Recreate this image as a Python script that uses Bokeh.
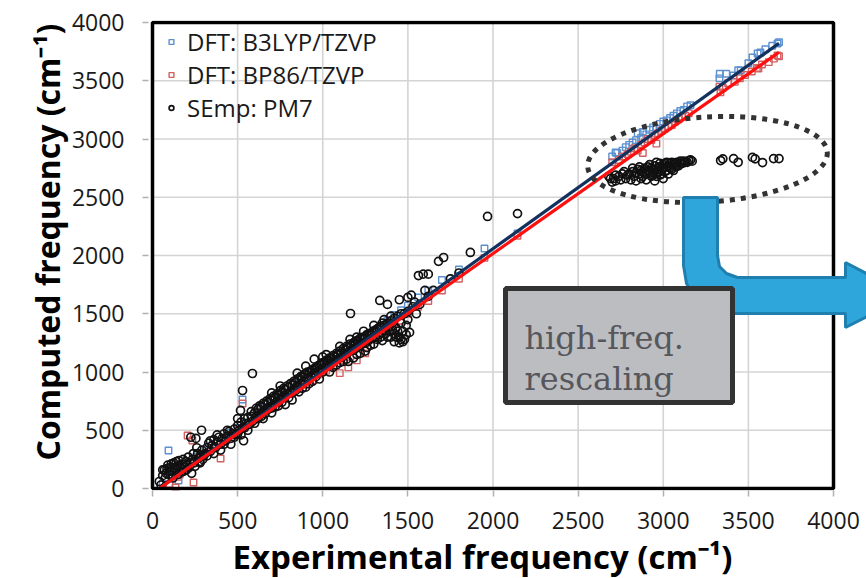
import math
from bokeh.plotting import figure
from bokeh.models import Range1d, FixedTicker, Legend, LegendItem, Title
from bokeh.core.properties import value
from bokeh.embed import file_html
from bokeh.resources import INLINE

# ---------------- data ----------------
ticks = [0, 500, 1000, 1500, 2000, 2500, 3000, 3500, 4000]
tick_labels = {t: str(t) for t in ticks}
grid_vals = [500, 1000, 1500, 2000, 2500, 3000, 3500]

series_names = ["DFT: B3LYP/TZVP", "DFT: BP86/TZVP", "SEmp: PM7"]
x_title = "Experimental frequency (cm\u207b\u00b9)"
y_title = "Computed frequency (cm\u207b\u00b9)"

b3lyp_pts = [
    (60, 40), (94, 326), (110, 100), (130, 120), (153, 69), (150, 160), (170, 140), (200, 210),
    (230, 230), (260, 270), (300, 300), (340, 350), (380, 400), (420, 430), (460, 480),
    (500, 520), (529, 764), (540, 560), (580, 600), (620, 650), (660, 690), (700, 730),
    (740, 770), (780, 810), (820, 860), (860, 900), (900, 940), (940, 980), (980, 1030),
    (1020, 1070), (1060, 1110), (1100, 1150), (1140, 1190), (1180, 1230), (1220, 1280),
    (1260, 1320), (1300, 1360), (1340, 1400), (1380, 1440), (1420, 1490), (1460, 1530),
    (1500, 1570), (1560, 1640), (1620, 1700), (1700, 1790), (1800, 1880), (1950, 2060),
    (2144, 2190),
    (2700, 2850), (2720, 2884), (2730, 2880), (2760, 2900), (2780, 2930), (2800, 2950),
    (2820, 2970), (2840, 2990), (2850, 3050), (2870, 3010), (2880, 3060), (2900, 3040),
    (2920, 3080), (2940, 3100), (2960, 3090), (2980, 3130), (3000, 3150), (3020, 3160),
    (3040, 3180), (3060, 3200), (3080, 3220), (3100, 3240), (3120, 3250), (3140, 3280),
    (3160, 3290),
    (3330, 3520), (3332, 3560), (3370, 3560), (3413, 3545), (3440, 3590), (3455, 3588),
    (3500, 3650), (3524, 3700), (3554, 3734), (3571, 3742), (3600, 3770), (3640, 3800),
    (3671, 3820), (3680, 3830),
]

bp86_pts = [
    (100, 40), (120, 220), (135, 8), (150, 100), (160, 120), (180, 150), (206, 455), (234, 412),
    (241, 51), (230, 230), (250, 230), (290, 270), (330, 310), (370, 360), (400, 258),
    (420, 400), (460, 440), (500, 500), (529, 730), (540, 520), (580, 570), (620, 610),
    (660, 650), (700, 700), (740, 730), (780, 770), (820, 820), (860, 860), (900, 890),
    (940, 930), (980, 980), (1020, 1010), (1060, 1050), (1100, 990), (1100, 1100),
    (1140, 1130), (1150, 1040), (1180, 1180), (1200, 1100), (1220, 1220), (1250, 1160),
    (1260, 1250), (1300, 1300), (1340, 1330), (1380, 1370), (1420, 1420), (1460, 1440),
    (1500, 1500), (1560, 1560), (1620, 1610), (1700, 1700), (1800, 1800), (1950, 1980),
    (2144, 2170),
    (2700, 2800), (2740, 2820), (2760, 2850), (2790, 2870), (2810, 2890), (2830, 2920),
    (2850, 2900), (2870, 2950), (2880, 2880), (2890, 2970), (2910, 3000), (2930, 2990),
    (2950, 3030), (2960, 2960), (2970, 3050), (2990, 3070), (3010, 3090), (3030, 3110),
    (3050, 3120), (3070, 3150), (3090, 3170), (3110, 3190), (3130, 3200), (3150, 3220),
    (3330, 3450), (3336, 3400), (3350, 3440), (3380, 3480), (3420, 3490), (3450, 3520),
    (3480, 3550), (3520, 3580), (3550, 3610), (3559, 3605), (3580, 3640), (3620, 3660),
    (3650, 3690), (3671, 3717), (3680, 3710),
]

pm7_pts = [
    (40, 60), (60, 110), (70, 160), (80, 130), (90, 200), (100, 150), (110, 210), (120, 90),
    (130, 180), (140, 230), (150, 120), (160, 200), (170, 140), (180, 250), (190, 190),
    (200, 160), (210, 270), (220, 220), (230, 130), (240, 300), (250, 190), (260, 350),
    (270, 260), (280, 220), (290, 330), (300, 280), (225, 440), (255, 430), (288, 500),
    (50, 30), (60, 160), (75, 90), (85, 170), (95, 120), (105, 180), (115, 150), (125, 220),
    (135, 160), (145, 190), (155, 240), (165, 170), (175, 210), (185, 150), (195, 230),
    (205, 200), (215, 180), (235, 250), (245, 220), (265, 300), (275, 230), (285, 280),
    (295, 250),
    (310, 300), (320, 350), (330, 390), (340, 320), (350, 370), (360, 420), (370, 350),
    (380, 400), (390, 440), (400, 380), (410, 430), (420, 470), (430, 410), (440, 450),
    (450, 490), (460, 430), (470, 470), (480, 510), (490, 460), (500, 540), (510, 500),
    (520, 570), (530, 520), (540, 600), (550, 560), (560, 610), (570, 550), (580, 620),
    (590, 580), (600, 650), (529, 841), (587, 987), (517, 670), (535, 410),
    (320, 280), (340, 410), (360, 300), (380, 460), (400, 330), (420, 380), (440, 500),
    (460, 380), (480, 440), (500, 470), (500, 600), (520, 460), (540, 520), (560, 500),
    (580, 660), (600, 560),
    (610, 620), (620, 680), (630, 640), (640, 700), (650, 660), (660, 720), (670, 690),
    (680, 740), (690, 700), (700, 760), (710, 720), (720, 780), (730, 750), (740, 800),
    (750, 760), (760, 830), (770, 790), (780, 850), (790, 810), (800, 870), (810, 830),
    (820, 890), (830, 850), (840, 910), (850, 880), (860, 940), (870, 900), (880, 960),
    (890, 920), (900, 980), (910, 950), (920, 1000), (930, 960), (940, 1020), (950, 990),
    (960, 1040), (970, 1000), (980, 1060), (990, 1020), (1000, 1080),
    (650, 600), (700, 690), (760, 740), (820, 820), (880, 860),
    (700, 820), (750, 880), (850, 990), (900, 1050), (950, 1110),
    (620, 600), (640, 620), (660, 640), (680, 680), (700, 650), (720, 700), (740, 710),
    (760, 780), (780, 720), (800, 780), (820, 760), (840, 840), (860, 830), (880, 900),
    (900, 870), (920, 900), (940, 920), (960, 960), (980, 940), (1000, 1000),
    (610, 690), (630, 710), (650, 730), (670, 750), (690, 770), (710, 790), (730, 810),
    (750, 840), (770, 860), (790, 880), (810, 900), (830, 920), (850, 940), (870, 960),
    (890, 980), (910, 1000), (930, 1010), (950, 1030), (970, 1050), (990, 1060),
    (1010, 1040), (1020, 1100), (1030, 1060), (1040, 1120), (1050, 1080), (1060, 1140),
    (1070, 1100), (1080, 1160), (1090, 1110), (1100, 1180), (1110, 1130), (1120, 1200),
    (1130, 1150), (1140, 1220), (1150, 1170), (1160, 1240), (1170, 1190), (1180, 1250),
    (1190, 1200), (1200, 1270), (1210, 1220), (1220, 1290), (1230, 1240), (1240, 1300),
    (1250, 1250), (1260, 1320), (1270, 1270), (1280, 1330), (1290, 1290), (1300, 1350),
    (1310, 1300), (1320, 1370), (1330, 1320), (1340, 1390), (1350, 1340), (1360, 1400),
    (1370, 1330), (1380, 1420), (1390, 1350), (1400, 1440), (1410, 1360), (1420, 1460),
    (1430, 1380), (1440, 1480), (1450, 1300), (1460, 1420), (1470, 1350), (1480, 1500),
    (1490, 1400), (1500, 1450),
    (1000, 1130), (1020, 1150), (1040, 1000), (1060, 1040), (1080, 1060), (1100, 1220),
    (1120, 1090), (1140, 1110), (1160, 1280), (1180, 1120), (1200, 1300), (1220, 1160),
    (1240, 1350), (1260, 1210), (1280, 1230), (1300, 1400), (1320, 1280), (1340, 1300),
    (1360, 1450), (1380, 1300), (1400, 1480), (1420, 1330), (1440, 1350), (1460, 1500),
    (1470, 1260), (1490, 1320), (1500, 1520), (1460, 1280), (1430, 1300), (1410, 1420),
    (1390, 1390), (1370, 1380), (1350, 1420), (1330, 1380), (1310, 1360), (1290, 1340),
    (1270, 1330), (1250, 1300), (1230, 1290), (1210, 1270), (1190, 1260), (1170, 1230),
    (1150, 1210), (1130, 1190), (1110, 1160), (1090, 1150), (1070, 1130), (1050, 1120),
    (1030, 1100), (1010, 1080),
    (1100, 1080), (1200, 1150), (1300, 1240), (1350, 1270), (1400, 1300), (1420, 1260),
    (1450, 1250), (1480, 1280), (1250, 1180), (1150, 1090), (1510, 1340),
    (1163, 1502), (1335, 1614), (1380, 1580), (1450, 1620), (1500, 1640), (1520, 1660),
    (1530, 1560), (1550, 1500), (1570, 1580), (1620, 1650), (1540, 1600), (1600, 1700),
    (1562, 1828), (1590, 1840), (1620, 1840), (1650, 1700), (1680, 1950), (1710, 1983),
    (1750, 1800), (1800, 1850), (1867, 2026), (1968, 2335), (2144, 2360),
    (2690, 2660), (2708, 2661), (2720, 2640), (2740, 2680), (2760, 2700), (2780, 2660),
    (2800, 2700), (2820, 2720), (2830, 2680), (2840, 2640), (2850, 2740), (2860, 2700),
    (2870, 2660), (2880, 2720), (2890, 2750), (2900, 2700), (2900, 2650), (2910, 2760),
    (2920, 2720), (2930, 2680), (2940, 2740), (2940, 2690), (2950, 2770), (2950, 2640),
    (2960, 2710), (2960, 2800), (2970, 2750), (2980, 2690), (2980, 2790), (2990, 2730),
    (3000, 2780), (3000, 2660), (3010, 2720), (3020, 2760), (3020, 2800), (3030, 2700),
    (3040, 2790), (3050, 2740), (3060, 2780), (3060, 2730), (3070, 2760), (3080, 2800),
    (3090, 2770), (3100, 2810), (3110, 2790), (3130, 2800), (3150, 2815), (3170, 2810),
    (2720, 2690), (2750, 2650), (2770, 2720), (2790, 2690), (2810, 2650), (2820, 2750),
    (2840, 2710), (2860, 2760), (2870, 2730), (2880, 2680), (2890, 2700), (2910, 2730),
    (2920, 2780), (2930, 2750), (2940, 2710), (2950, 2730), (2960, 2680), (2970, 2720),
    (2980, 2760), (2990, 2700), (3000, 2750), (3010, 2790), (3020, 2730), (3030, 2770),
    (3040, 2750), (3050, 2800), (3070, 2790), (3080, 2770), (3100, 2790), (3120, 2810),
    (3140, 2800), (3160, 2820), (2680, 2680), (2700, 2630),
    (3337, 2815), (3350, 2830), (3413, 2832), (3440, 2800), (3524, 2842), (3540, 2830),
    (3583, 2798), (3648, 2832), (3680, 2832),
]

fit_x = [40, 3680]
fit_b3lyp_y = [0, 3822]
fit_bp86_y = [0, 3745]

annot_lines = ["high-freq.", "rescaling"]

# ---------------- geometry (pixels of the 866x578 page) ----------------
W, H = 866, 578
X0PX, X4PX = 152, 833      # pixel of x = 0 and x = 4000
Y0PX, Y4PX = 488, 22       # pixel of y = 0 and y = 4000
SX = (X4PX - X0PX) / 4000.0
SY = (Y0PX - Y4PX) / 4000.0
FL, FR, FT, FB = 148, 866, 20, 490   # frame edges


def dx(px):
    return (px - X0PX) / SX


def dy(py):
    return (Y0PX - py) / SY


p = figure(width=W, height=H,
           x_range=Range1d(dx(FL), dx(FR)), y_range=Range1d(dy(FB), dy(FT)),
           output_backend="svg", toolbar_location=None,
           min_border_left=FL, min_border_right=0, min_border_top=FT,
           min_border_bottom=H - FB, outline_line_color=None,
           background_fill_color="white", border_fill_color="white")
p.xgrid.visible = False
p.ygrid.visible = False

for ax in (p.xaxis[0], p.yaxis[0]):
    ax.ticker = FixedTicker(ticks=ticks)
    ax.major_label_overrides = tick_labels
    ax.bounds = (0, 4000)
    ax.axis_line_color = None
    ax.major_tick_in = 0
    ax.major_tick_out = 6
    ax.major_tick_line_color = "#b0b0b0"
    ax.major_tick_line_width = 1.5
    ax.minor_tick_line_color = None
    ax.major_label_text_font = "Open Sans"
    ax.major_label_text_font_size = "23px"
    ax.major_label_text_color = "#1a1a1a"
p.xaxis.major_label_standoff = 15
p.yaxis.major_label_standoff = 18

# axis titles (as titles in the side panels, so they are not clipped by the frame)
p.add_layout(Title(text=x_title, align="left", offset=84, standoff=0,
                   text_font="Open Sans", text_font_style="bold", text_font_size="33px",
                   text_color="black"), "below")
p.add_layout(Title(text=y_title, align="left", offset=30, standoff=0,
                   text_font="Open Sans", text_font_style="bold", text_font_size="32px",
                   text_color="black"), "left")

# grid
p.segment(x0=grid_vals, y0=[0] * len(grid_vals), x1=grid_vals, y1=[4000] * len(grid_vals),
          line_color="#d4d4d4", line_width=1.6)
p.segment(x0=[0] * len(grid_vals), y0=grid_vals, x1=[4000] * len(grid_vals), y1=grid_vals,
          line_color="#d4d4d4", line_width=1.6)

bx, by = zip(*b3lyp_pts)
rx, ry = zip(*bp86_pts)
kx, ky = zip(*pm7_pts)

r_b = p.scatter(list(bx), list(by), marker="square", size=6.5, fill_color=None,
                line_color="#5a8fd0", line_width=1.4)
r_r = p.scatter(list(rx), list(ry), marker="square", size=6.5, fill_color=None,
                line_color="#d26060", line_width=1.4)
r_k = p.scatter(list(kx), list(ky), marker="circle", size=8, fill_color=None,
                line_color="#111111", line_width=1.7)

p.line(fit_x, fit_b3lyp_y, line_color="#12325e", line_width=3.2)
p.line(fit_x, fit_bp86_y, line_color="#ff1010", line_width=3.2)

# frame
p.quad(left=[0], right=[4000], bottom=[0], top=[4000], fill_color=None,
       line_color="black", line_width=3.5)

# dotted ellipse
p.ellipse(x=[dx(707)], y=[dy(159)], width=[240 / SX], height=[85 / SY], angle=[0.06],
          fill_color=None, line_color="#333333", line_width=5, line_dash="5 6")

# blue bent arrow
arrow_px = [(683, 197), (717, 197), (717, 255), (719, 266), (726, 273), (737, 277),
            (845, 277), (845, 262), (908, 295), (845, 327), (845, 313), (735, 313),
            (712, 309), (695, 298), (686, 283), (683, 265)]
p.patch([dx(a) for a, b in arrow_px], [dy(b) for a, b in arrow_px],
        fill_color="#2ea6dc", line_color="#1f7fae", line_width=3)

# grey box
p.quad(left=[dx(505)], right=[dx(732)], top=[dy(288)], bottom=[dy(402)],
       fill_color="#bcbdc1", line_color="#333333", line_width=5)
p.text(x=[dx(524), dx(524)], y=[dy(337), dy(378)], text=annot_lines,
       text_font=value("DejaVu Serif"), text_font_size="32px", text_color="#56575c",
       text_baseline="alphabetic", text_align="left")

legend = Legend(items=[LegendItem(label=series_names[0], renderers=[r_b]),
                       LegendItem(label=series_names[1], renderers=[r_r]),
                       LegendItem(label=series_names[2], renderers=[r_k])],
                location=(17, 366), padding=0, margin=0, spacing=0,
                label_height=33, glyph_height=33, glyph_width=12, label_standoff=10,
                border_line_color=None, background_fill_alpha=0,
                label_text_font="Open Sans", label_text_font_size="24px",
                label_text_color="#1a1a1a")
p.add_layout(legend, "center")

open("out.html", "w").write(file_html(p, INLINE))
